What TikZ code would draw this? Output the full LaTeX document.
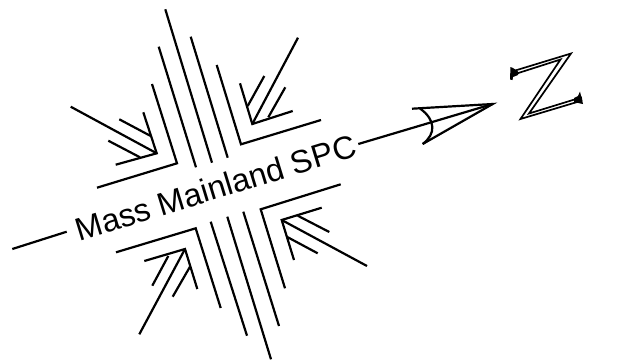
\documentclass[tikz,border=0pt]{standalone}
\usepackage{fontspec}
\setmainfont{Liberation Sans}
\tikzset{ln/.style={line width=2.2pt,line cap=butt,line join=miter}}
\begin{document}
\begin{tikzpicture}[x=1pt,y=-1pt]
\useasboundingbox (0,0) rectangle (624,360);
\node[rotate=17,inner sep=0pt] (label) at (215.5,187.5) {\fontsize{32.2}{36}\selectfont Mass Mainland SPC};
% axis
\coordinate (axl) at (12.3,249);
\coordinate (axr) at (492.7,104);
\draw[ln] (axl) -- (66.7,231.7);
\draw[ln] (358.3,144) -- (axr);
% centre lines
\draw[ln] (165.3,9.3) -- (212,162.7);
\draw[ln] (190.7,36.7) -- (227.7,157.7);
\draw[ln] (158.7,46.7) -- (196,167.3);
\draw[ln] (210.7,221.7) -- (247,335.7);
\draw[ln] (227.3,216.7) -- (271,359.3);
\draw[ln] (243.3,211.7) -- (279,326);
% corners
\draw[ln] (152,84) -- (177,163.3) -- (97,187.7);
\draw[ln] (216.7,65) -- (241,144.3) -- (321,120);
\draw[ln] (116,252.3) -- (195.7,228.3) -- (220.7,308);
\draw[ln] (340.7,184.3) -- (260.7,209.3) -- (285,288.3);
% UL
\draw[ln] (70.7,106.7) -- (156.7,153.3);
\draw[ln] (143.3,112.3) -- (156.7,153.3) -- (115.7,164.7);
\draw[ln] (119.3,119.3) -- (150.7,136);
\draw[ln] (108.3,140.7) -- (140,157.3);
% UR
\draw[ln] (298,37.7) -- (252.3,124);
\draw[ln] (240,83.3) -- (252.3,124) -- (292.7,111);
\draw[ln] (264.3,76) -- (247.7,106);
\draw[ln] (285.3,87.3) -- (268.3,117.3);
% LR
\draw[ln] (367,266) -- (281.7,220);
\draw[ln] (321.7,207.7) -- (281.7,220) -- (294,260);
\draw[ln] (329.3,232) -- (297.7,215.7);
\draw[ln] (317.7,253.3) -- (286.7,236.7);
% LL
\draw[ln] (139.3,334.3) -- (185,249);
\draw[ln] (144.3,261) -- (185,249) -- (197.3,289);
\draw[ln] (152.3,285.7) -- (168.3,256);
\draw[ln] (172.7,296.7) -- (190,266.7);
% north arrow
\draw[ln] (412,108.7) -- (axr) -- (422.7,144);
\draw[ln] (420,108.5) .. controls (436,120) and (436,134) .. (422.7,144);
% Z
\draw[line width=1.7pt,line join=miter,fill=white]
 (512,71.5) -- (571,53.5) -- (529,113.5) -- (581,97.5) -- (581.5,100.7) -- (520.5,119) -- (560.5,59.5) -- (513,74.7) -- cycle;
\fill (510.5,67) -- (513,68) -- (518,71.5) -- (518,75) -- (513,77) -- (512.5,80) -- (510,79.5) -- cycle;
\fill (580,91.5) -- (583,104) -- (580.5,103.5) -- (574,102) -- (574,98) -- (578,96) -- cycle;
\end{tikzpicture}
\end{document}
